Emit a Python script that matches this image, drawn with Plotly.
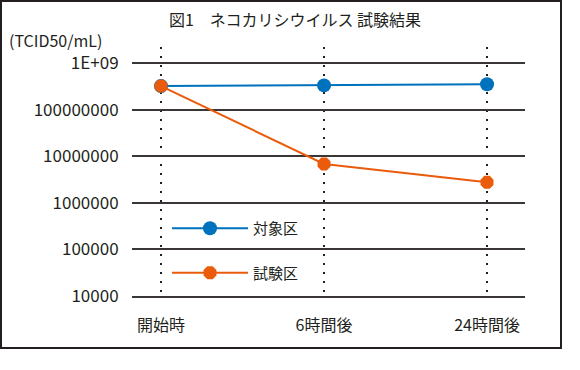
import plotly.graph_objects as go

categories = ["開始時", "6時間後", "24時間後"]
control = [3.2e8, 3.3e8, 3.5e8]
test = [3.2e8, 6.8e6, 2.75e6]
tick_vals = [1e4, 1e5, 1e6, 1e7, 1e8, 1e9]
tick_text = ["10000", "100000", "1000000", "10000000", "100000000", "1E+09"]
series_names = ["対象区", "試験区"]

FONT = "Noto Sans CJK JP"
TXT = "#231f20"
BLUE = "#0071bc"
ORANGE = "#ea5b0c"

x = list(range(len(categories)))

fig = go.Figure()
fig.add_trace(go.Scatter(
    x=x, y=control, name=series_names[0], mode="lines+markers",
    line=dict(color=BLUE, width=2),
    marker=dict(symbol="circle", size=14, color=BLUE),
    legendgroup="a",
))
fig.add_trace(go.Scatter(
    x=x, y=test, name=series_names[1], mode="lines+markers",
    line=dict(color=ORANGE, width=2),
    marker=dict(symbol="octagon", size=14, color=ORANGE),
    legendgroup="b",
))

L, R, T, B = 132, 55, 47, 74
W, H = 580, 370
pw, ph = W - L - R, H - T - B

def px_x(p):
    return (p - L) / pw

def px_y(p):
    return (H - B - p) / ph

fig.update_layout(
    width=W, height=H,
    margin=dict(l=L, r=R, t=T, b=B, pad=0),
    paper_bgcolor="white", plot_bgcolor="white",
    font=dict(family=FONT, size=16, color=TXT),
    showlegend=True,
    legend=dict(
        x=px_x(167), y=px_y(212), xanchor="left", yanchor="top",
        bgcolor="rgba(0,0,0,0)", font=dict(size=15, color=TXT, family=FONT),
        tracegroupgap=22, itemwidth=76,
    ),
    title=dict(
        text="図1　ネコカリシウイルス 試験結果",
        x=295 / W, xanchor="center", y=1 - 20 / H, yanchor="middle",
        font=dict(size=16, color=TXT, family=FONT),
    ),
    xaxis=dict(
        range=[-0.178, 2.233], tickvals=x, ticktext=categories,
        showgrid=True, gridcolor="#231f20", gridwidth=2, griddash="2px,7px",
        zeroline=False, showline=True, linecolor="#3a3636", linewidth=2,
        ticks="outside", ticklen=14, tickcolor="rgba(0,0,0,0)",
        tickfont=dict(size=16, color=TXT, family=FONT),
    ),
    yaxis=dict(
        type="log", range=[4, 9.343], tickvals=tick_vals, ticktext=tick_text,
        showgrid=True, gridcolor="#3a3636", gridwidth=1.6,
        zeroline=False, showline=False,
        ticks="outside", ticklen=9, tickcolor="rgba(0,0,0,0)",
        tickfont=dict(size=17, color=TXT, family=FONT),
    ),
    annotations=[dict(
        text="(TCID50/mL)", xref="paper", yref="paper",
        x=px_x(7), y=px_y(40), xanchor="left", yanchor="middle",
        showarrow=False, font=dict(size=16, color=TXT, family=FONT),
    )],
    shapes=[dict(
        type="rect", xref="paper", yref="paper",
        x0=px_x(1), x1=px_x(561), y0=px_y(348), y1=px_y(1),
        line=dict(color="#231f20", width=2), layer="below",
    )],
)

fig.write_html("out.html", config={"displayModeBar": False},
               post_script="document.body.style.margin='0';")
